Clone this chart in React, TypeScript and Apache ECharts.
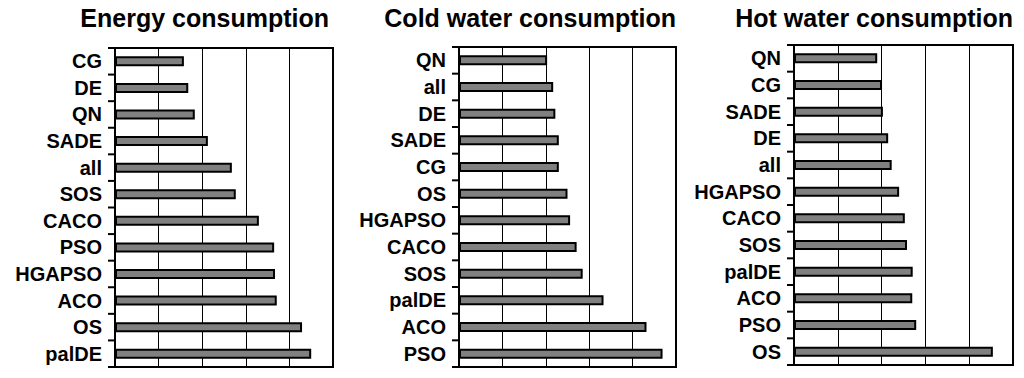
import React, { useEffect, useRef } from "react";
import * as echarts from "echarts";

const energyCategories = ["CG", "DE", "QN", "SADE", "all", "SOS", "CACO", "PSO", "HGAPSO", "ACO", "OS", "palDE"];
const energyValues = [1.58, 1.68, 1.83, 2.13, 2.68, 2.77, 3.3, 3.65, 3.67, 3.71, 4.29, 4.5];

const coldCategories = ["QN", "all", "DE", "SADE", "CG", "OS", "HGAPSO", "CACO", "SOS", "palDE", "ACO", "PSO"];
const coldValues = [2.03, 2.17, 2.22, 2.3, 2.3, 2.5, 2.56, 2.71, 2.85, 3.33, 4.32, 4.69];

const hotCategories = ["QN", "CG", "SADE", "DE", "all", "HGAPSO", "CACO", "SOS", "palDE", "ACO", "PSO", "OS"];
const hotValues = [1.9, 2.01, 2.03, 2.15, 2.23, 2.4, 2.53, 2.58, 2.71, 2.7, 2.79, 4.54];

const titles = ["Energy consumption", "Cold water consumption", "Hot water consumption"];

const FONT = "Liberation Sans, Arial, sans-serif";

export default function App() {
  const ref = useRef<HTMLDivElement>(null);
  useEffect(() => {
    if (!ref.current) return;
    const chart = echarts.init(ref.current, undefined, { renderer: "svg" });
    const grids = [
      { left: 115, top: 48, width: 218, height: 319 },
      { left: 459, top: 47, width: 217, height: 320 },
      { left: 794, top: 45, width: 219, height: 320 },
    ];
    const titleRights = [329, 676, 1013];
    const cats = [energyCategories, coldCategories, hotCategories];
    const vals = [energyValues, coldValues, hotValues];
    const frames: any[] = [];
    grids.forEach((g, i) => {
      const l = g.left;
      const t = g.top;
      const r = g.left + g.width;
      const b = g.top + g.height;
      // frame sides as thin filled rects
      const sides = [
        { x: l - 1, y: t - 1, width: g.width + 2, height: 2 },
        { x: r - 1, y: t - 1, width: 2, height: g.height + 2 },
        { x: l - 1, y: b - 1, width: g.width + 2, height: 2 },
        { x: l - 1, y: t - 1, width: 2, height: g.height + 2 },
      ];
      sides.forEach((s) => {
        frames.push({
          type: "rect",
          z: 100,
          shape: s,
          style: { fill: "#000000" },
        });
      });
      // tick marks at category boundaries
      const n = cats[i].length;
      for (let k = 0; k <= n; k++) {
        const y = t + (g.height * k) / n;
        frames.push({
          type: "rect",
          z: 100,
          shape: { x: l - 7, y: y - 1, width: 7, height: 2 },
          style: { fill: "#000000" },
        });
      }
    });
    chart.setOption({
      animation: false,
      graphic: [
        ...frames,
        ...titles.map((t, i) => ({
          type: "text",
          x: titleRights[i],
          y: 30,
          style: {
            text: t,
            textAlign: "right",
            textVerticalAlign: "bottom",
            fontSize: 25,
            fontWeight: "bold",
            fontFamily: FONT,
            fill: "#000",
          },
        })),
      ],
      grid: grids.map((g) => ({ ...g })),
      xAxis: grids.map((_, i) => ({
        type: "value",
        gridIndex: i,
        min: 0,
        max: 5,
        interval: 1,
        axisLabel: { show: false },
        axisTick: { show: false },
        axisLine: { show: true, lineStyle: { color: "#000", width: 2 } },
        splitLine: { show: true, lineStyle: { color: "#000", width: 1 } },
      })),
      yAxis: grids.map((_, i) => ({
        type: "category",
        gridIndex: i,
        inverse: true,
        data: cats[i],
        axisLine: { show: true, lineStyle: { color: "#000", width: 2 } },
        axisTick: { show: false },
        axisLabel: {
          margin: 13,
          color: "#000",
          fontSize: 20,
          fontWeight: "bold",
          fontFamily: FONT,
        },
      })),
      series: grids.map((_, i) => ({
        type: "bar",
        xAxisIndex: i,
        yAxisIndex: i,
        data: vals[i],
        barWidth: 10,
        itemStyle: { color: "#808080", borderColor: "#000", borderWidth: 2 },
      })),
    });
    return () => chart.dispose();
  }, []);
  return (
    <div
      ref={ref}
      style={{ position: "fixed", left: 0, top: 0, width: 1024, height: 378, background: "#fff" }}
    />
  );
}
